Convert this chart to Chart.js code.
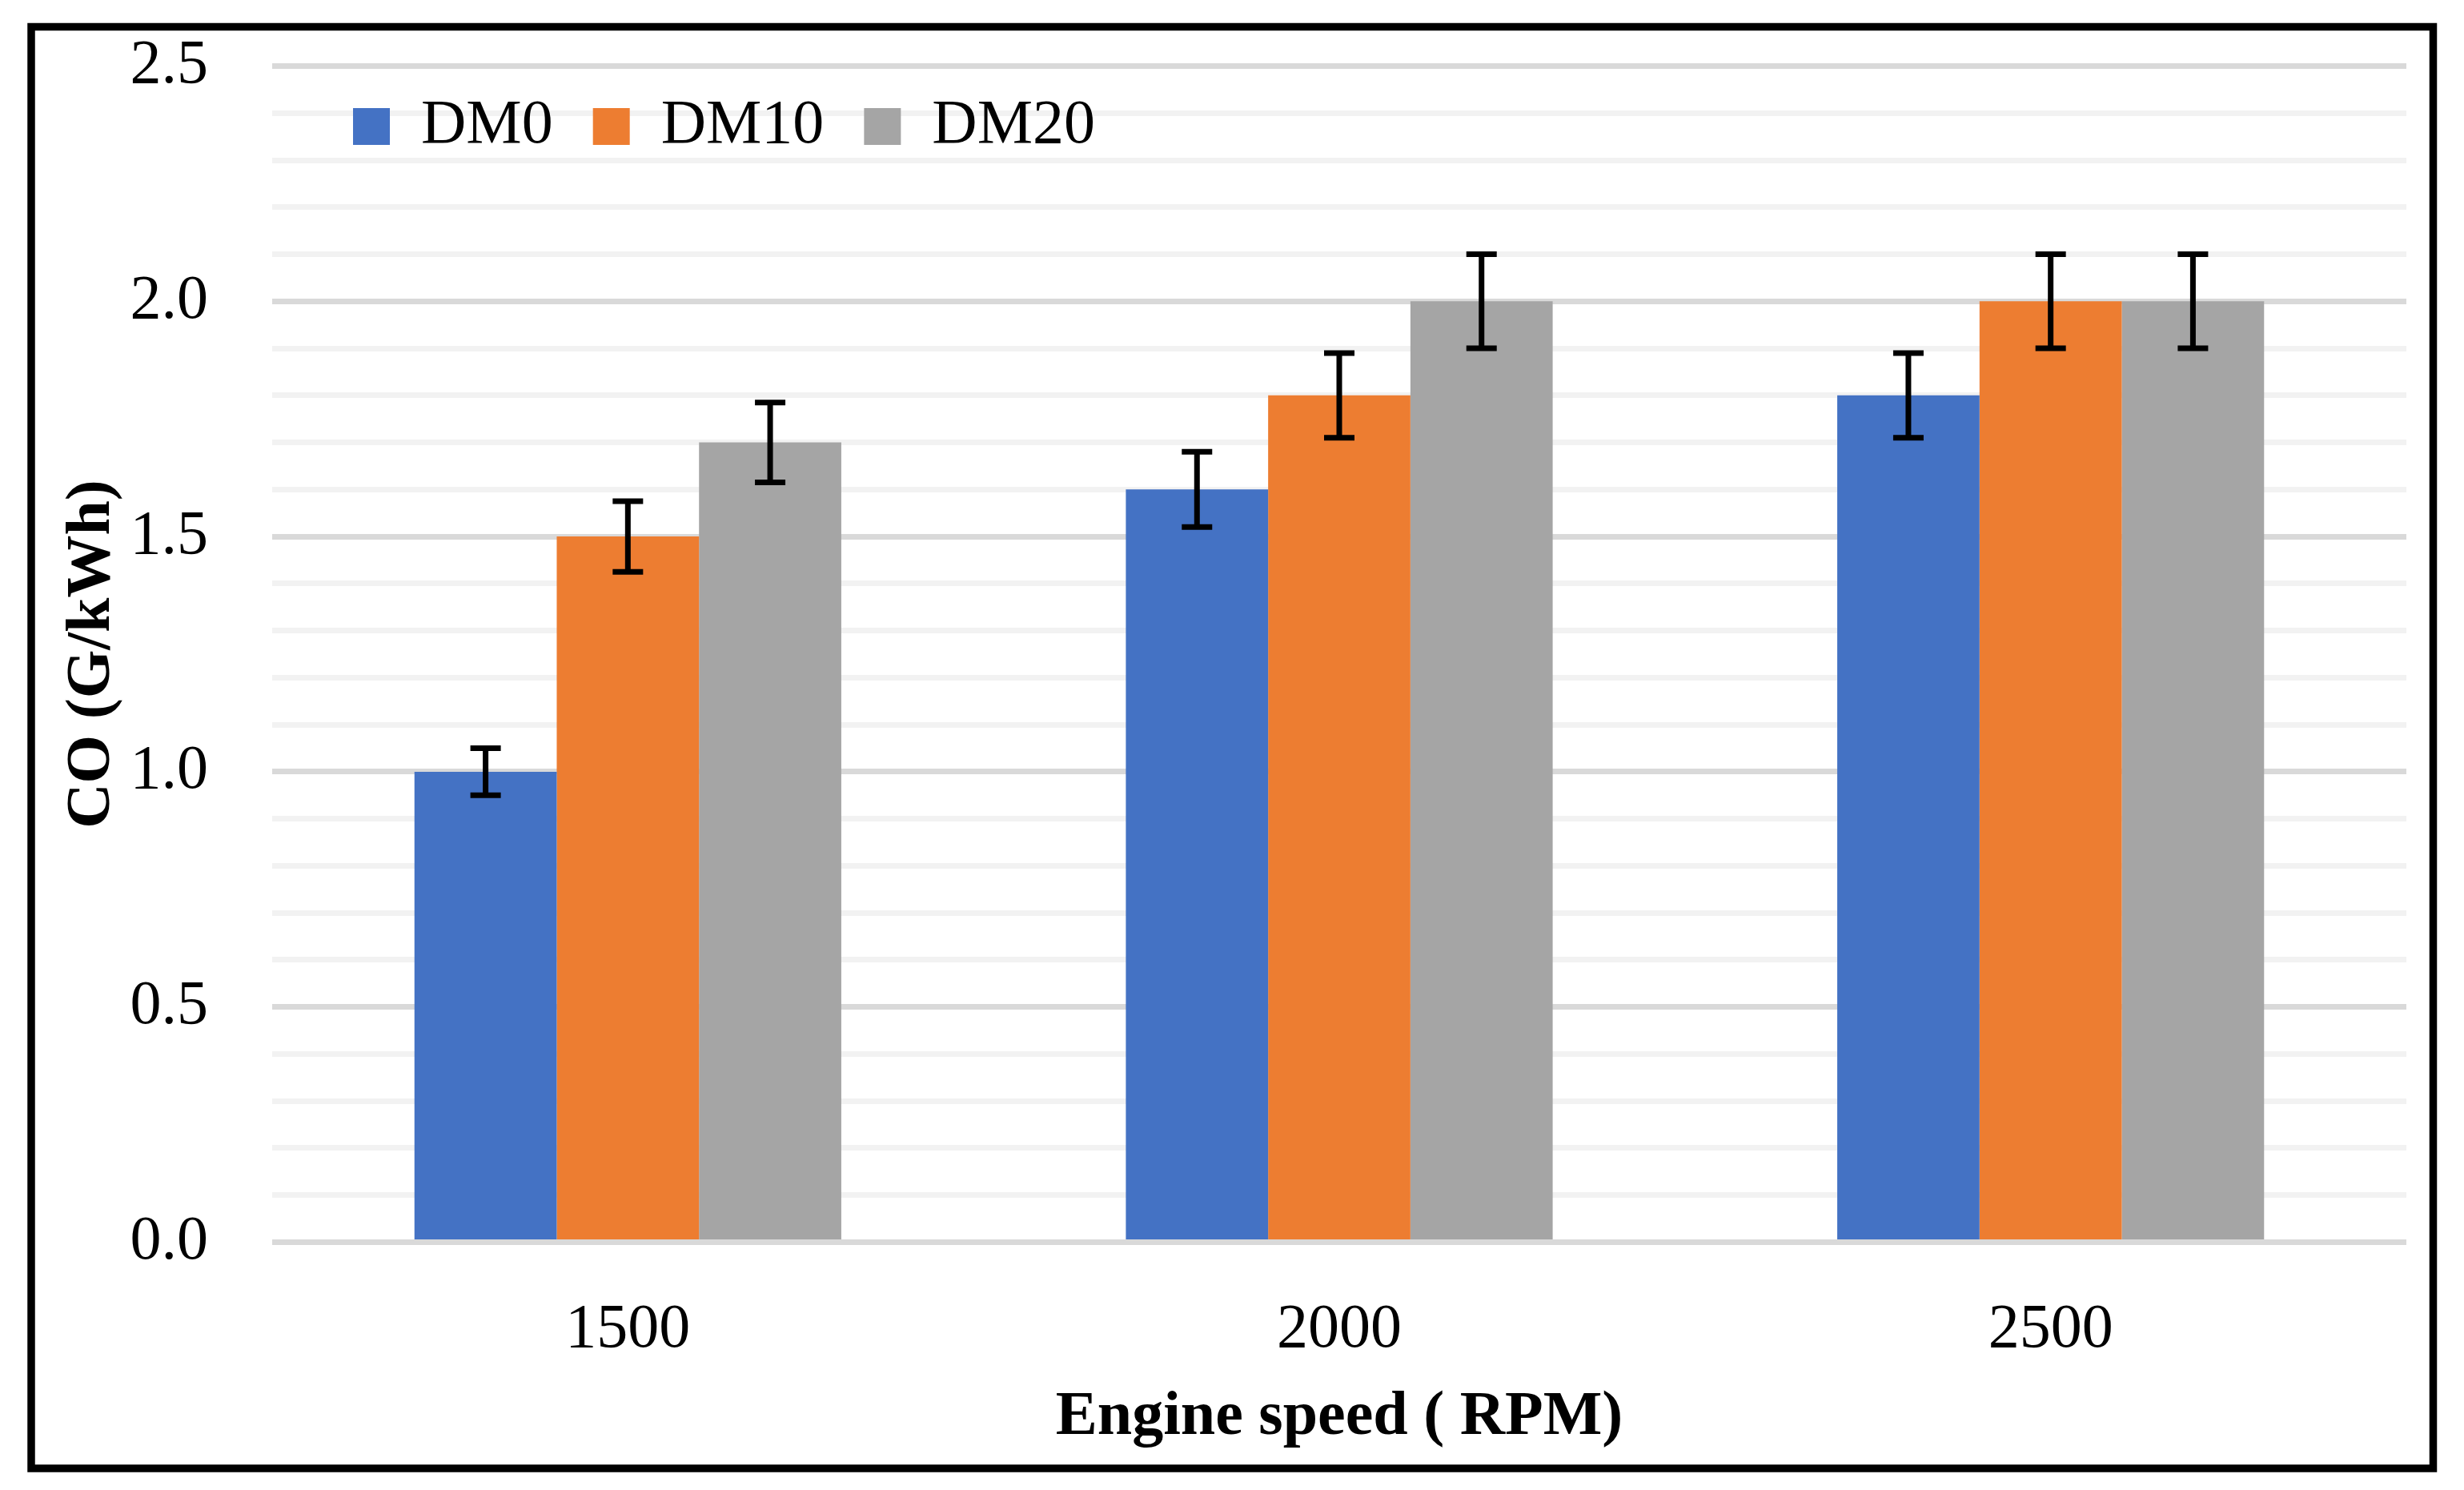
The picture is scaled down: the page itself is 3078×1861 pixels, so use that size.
<!DOCTYPE html>
<html>
<head>
<meta charset="utf-8">
<script src="https://cdn.jsdelivr.net/npm/chart.js@4.4.1/dist/chart.umd.min.js"></script>
<style>
  html, body { margin: 0; padding: 0; background: #ffffff; }
  #wrap { width: 3078px; height: 1861px; }
</style>
</head>
<body>
<div id="wrap"><canvas id="c" width="3078" height="1861"></canvas></div>
<script>
// ---- data ----
const categories = ['1500', '2000', '2500'];
const seriesNames = ['DM0', 'DM10', 'DM20'];
const dm0 = [1.0, 1.6, 1.8];
const dm10 = [1.5, 1.8, 2.0];
const dm20 = [1.7, 2.0, 2.0];
const dm0Err = [0.05, 0.08, 0.09];
const dm10Err = [0.075, 0.09, 0.10];
const dm20Err = [0.085, 0.10, 0.10];
const yTickLabels = ['0.0', '0.5', '1.0', '1.5', '2.0', '2.5'];
const xTitle = 'Engine speed ( RPM)';
const yTitle = 'CO (G/kWh)';

const colors = ['#4472c4', '#ed7d31', '#a5a5a5'];
const FONT = '"Liberation Serif", "Times New Roman", serif';

const errorBars = {
  id: 'errorBars',
  afterDatasetsDraw(chart) {
    const ctx = chart.ctx;
    const y = chart.scales.y;
    ctx.save();
    ctx.strokeStyle = '#000000';
    ctx.lineWidth = 7;
    chart.data.datasets.forEach((ds, i) => {
      const meta = chart.getDatasetMeta(i);
      meta.data.forEach((bar, j) => {
        const v = ds.data[j];
        const e = ds.errors[j];
        const x = bar.x;
        const yt = y.getPixelForValue(v + e);
        const yb = y.getPixelForValue(v - e);
        ctx.beginPath();
        ctx.moveTo(x, yt); ctx.lineTo(x, yb);
        ctx.moveTo(x - 19, yt); ctx.lineTo(x + 19, yt);
        ctx.moveTo(x - 19, yb); ctx.lineTo(x + 19, yb);
        ctx.stroke();
      });
    });
    ctx.restore();
  }
};

const frame = {
  id: 'frame',
  beforeDraw(chart) {
    const ctx = chart.ctx;
    ctx.save();
    ctx.fillStyle = '#ffffff';
    ctx.fillRect(0, 0, chart.width, chart.height);
    ctx.restore();
  },
  afterLayout(chart) {
    const lg = chart.legend;
    if (lg) {
      lg.left = 391; lg.right = 391 + 2500;
      lg.top = 69; lg.bottom = 69 + 180;
      lg.width = 2500; lg.height = 180;
    }
  },
  afterDraw(chart) {
    const ctx = chart.ctx;
    ctx.save();
    ctx.strokeStyle = '#000000';
    ctx.lineWidth = 9.5;
    ctx.strokeRect(39, 33.5, 3000.5, 1800.5);
    ctx.restore();
  }
};

new Chart(document.getElementById('c'), {
  type: 'bar',
  data: {
    labels: categories,
    datasets: [
      { label: seriesNames[0], data: dm0, errors: dm0Err, backgroundColor: colors[0] },
      { label: seriesNames[1], data: dm10, errors: dm10Err, backgroundColor: colors[1] },
      { label: seriesNames[2], data: dm20, errors: dm20Err, backgroundColor: colors[2] }
    ]
  },
  options: {
    responsive: false,
    animation: false,
    devicePixelRatio: 1,
    layout: { padding: { left: 0, right: 72, top: 81.5, bottom: 0 } },
    datasets: { bar: { categoryPercentage: 0.6, barPercentage: 1.0, borderWidth: 0 } },
    plugins: {
      tooltip: { enabled: false },
      legend: {
        display: true,
        position: 'top',
        align: 'start',
        maxHeight: 1,
        labels: {
          boxWidth: 46,
          boxHeight: 46,
          padding: 50,
          color: '#000000',
          font: { family: FONT, size: 78 }
        }
      }
    },
    scales: {
      x: {
        grid: { display: false, drawTicks: false },
        border: { display: false },
        ticks: { color: '#000000', padding: 63, font: { family: FONT, size: 78 } },
        title: { display: true, text: xTitle, color: '#000000', padding: { top: 0, bottom: 43 },
                 font: { family: FONT, size: 78, weight: 'bold' } },
        afterFit(scale) { scale.height = 309.5; }
      },
      y: {
        min: 0, max: 2.5,
        grid: {
          drawTicks: false,
          lineWidth: 7,
          color(c) {
            const k = Math.round(c.tick.value * 10);
            return k % 5 === 0 ? '#d9d9d9' : '#f2f2f2';
          }
        },
        border: { display: false },
        ticks: {
          stepSize: 0.1,
          autoSkip: false,
          padding: 80,
          color: '#000000',
          font: { family: FONT, size: 78 },
          callback(v) {
            const k = Math.round(v * 10);
            return k % 5 === 0 ? yTickLabels[k / 5] : '';
          }
        },
        title: { display: true, text: yTitle, color: '#000000', padding: { top: 69, bottom: 0 },
                 font: { family: FONT, size: 78, weight: 'bold' } },
        afterFit(scale) { scale.width = 340; scale.paddingTop = 0; scale.paddingBottom = 0; }
      }
    }
  },
  plugins: [errorBars, frame]
});
</script>
</body>
</html>
